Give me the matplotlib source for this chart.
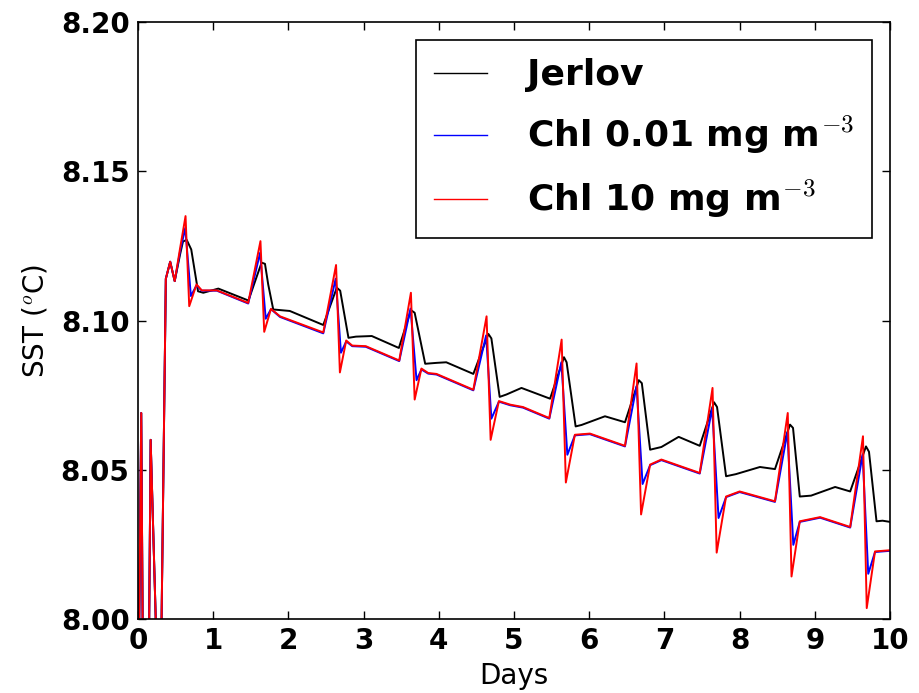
import matplotlib
matplotlib.use("Agg")
import matplotlib.pyplot as plt

plt.rcParams['mathtext.fontset'] = 'cm'
plt.rcParams['font.family'] = ['DejaVu Sans']

# Jerlov (black)
t_jerlov = [0.00, 0.045, 0.09, 0.125, 0.17, 0.24, 0.28, 0.315, 0.372, 0.43, 0.49, 0.56, 0.60, 0.65, 0.71, 0.80, 0.87, 1.07, 1.47,
            1.645, 1.69, 1.733, 1.80, 2.02, 2.465,
            2.645, 2.69, 2.80, 2.90, 3.11, 3.47,
            3.63, 3.68, 3.82, 3.97, 4.10, 4.46,
            4.66, 4.70, 4.81, 4.90, 5.10, 5.48,
            5.665, 5.70, 5.82, 5.90, 6.21, 6.476,
            6.66, 6.70, 6.81, 6.96, 7.19, 7.47,
            7.66, 7.70, 7.82, 7.95, 8.27, 8.47,
            8.67, 8.71, 8.80, 8.95, 9.27, 9.47,
            9.68, 9.72, 9.82, 9.90, 10.0]
v_jerlov = [7.95, 8.069, 7.90, 7.92, 8.060, 7.998, 7.95, 7.999, 8.114, 8.1197, 8.1132, 8.122, 8.1265, 8.127, 8.1238, 8.1098, 8.1093, 8.1107, 8.1067,
            8.1194, 8.1190, 8.1121, 8.1037, 8.1032, 8.0985,
            8.1110, 8.1100, 8.0942, 8.0946, 8.0948, 8.0908,
            8.1035, 8.1026, 8.0855, 8.0858, 8.0860, 8.0821,
            8.0955, 8.0940, 8.0744, 8.0752, 8.0774, 8.0738,
            8.0877, 8.0860, 8.0645, 8.0650, 8.0679, 8.0659,
            8.0800, 8.0790, 8.0567, 8.0576, 8.0610, 8.0580,
            8.0726, 8.0710, 8.0478, 8.0485, 8.0509, 8.0502,
            8.0651, 8.0640, 8.0410, 8.0413, 8.0442, 8.0427,
            8.0578, 8.0560, 8.0327, 8.0329, 8.0325]

# Chl 0.01 mg m-3 (blue)
t_chl001 = [0.00, 0.045, 0.09, 0.125, 0.17, 0.24, 0.28, 0.315, 0.372, 0.43, 0.49, 0.56, 0.63, 0.705, 0.78, 0.85, 1.05, 1.467,
            1.625, 1.70, 1.77, 1.89, 2.465,
            2.63, 2.70, 2.77, 2.85, 3.03, 3.475,
            3.625, 3.705, 3.77, 3.86, 3.97, 4.46,
            4.63, 4.70, 4.80, 4.95, 5.12, 5.47,
            5.63, 5.71, 5.81, 6.01, 6.476,
            6.63, 6.71, 6.81, 6.96, 7.47,
            7.635, 7.72, 7.82, 8.00, 8.47,
            8.635, 8.714, 8.80, 9.07, 9.47,
            9.635, 9.71, 9.80, 10.0]
v_chl001 = [7.95, 8.069, 7.90, 7.92, 8.060, 7.998, 7.95, 7.999, 8.114, 8.1197, 8.1132, 8.123, 8.131, 8.1082, 8.1118, 8.1100, 8.1100, 8.1057,
            8.1227, 8.1006, 8.1038, 8.1012, 8.0957,
            8.1140, 8.0892, 8.0930, 8.0914, 8.0912, 8.0864,
            8.1040, 8.0800, 8.0836, 8.0822, 8.0819, 8.0766,
            8.0950, 8.0671, 8.0728, 8.0716, 8.0708, 8.0671,
            8.0860, 8.0550, 8.0615, 8.0619, 8.0578,
            8.0780, 8.0452, 8.0515, 8.0532, 8.0487,
            8.0705, 8.0338, 8.0408, 8.0425, 8.0392,
            8.0625, 8.0248, 8.0325, 8.0339, 8.0306,
            8.0550, 8.0151, 8.0224, 8.0228]

# Chl 10 mg m-3 (red)
t_chl10 = [0.00, 0.045, 0.09, 0.125, 0.17, 0.24, 0.28, 0.315, 0.372, 0.43, 0.49, 0.56, 0.634, 0.683, 0.78, 0.85, 1.05, 1.467,
           1.63, 1.68, 1.77, 1.89, 2.465,
           2.635, 2.686, 2.77, 2.85, 3.03, 3.475,
           3.63, 3.68, 3.77, 3.86, 3.97, 4.46,
           4.636, 4.69, 4.80, 4.95, 5.12, 5.47,
           5.634, 5.69, 5.81, 6.01, 6.476,
           6.63, 6.69, 6.81, 6.96, 7.47,
           7.64, 7.695, 7.82, 8.00, 8.47,
           8.64, 8.69, 8.80, 9.07, 9.47,
           9.64, 9.69, 9.80, 10.0]
v_chl10 = [7.95, 8.069, 7.90, 7.92, 8.060, 7.998, 7.95, 7.999, 8.114, 8.1197, 8.1132, 8.124, 8.135, 8.1048, 8.1121, 8.1101, 8.1101, 8.1059,
           8.1266, 8.0962, 8.1039, 8.1014, 8.0960,
           8.1186, 8.0826, 8.0933, 8.0916, 8.0914, 8.0866,
           8.1093, 8.0735, 8.0839, 8.0824, 8.0821, 8.0768,
           8.1014, 8.0600, 8.0730, 8.0718, 8.0710, 8.0673,
           8.0936, 8.0457, 8.0617, 8.0621, 8.0580,
           8.0856, 8.0350, 8.0517, 8.0534, 8.0489,
           8.0774, 8.0222, 8.0410, 8.0427, 8.0394,
           8.0690, 8.0142, 8.0327, 8.0341, 8.0308,
           8.0612, 8.0036, 8.0226, 8.0230]

labels = ['Jerlov', 'Chl 0.01 mg m$^{-3}$', 'Chl 10 mg m$^{-3}$']
x_ticks = list(range(0, 11))
y_ticks = [8.00, 8.05, 8.10, 8.15, 8.20]

fig = plt.figure(figsize=(9.19, 6.93), dpi=100)
ax = fig.add_axes([0.150, 0.107, 0.8185, 0.861])

ax.plot(t_jerlov, v_jerlov, color='k', lw=1.4, label=labels[0])
ax.plot(t_chl001, v_chl001, color='b', lw=1.4, label=labels[1])
ax.plot(t_chl10, v_chl10, color='r', lw=1.4, label=labels[2])

ax.set_xlim(0, 10)
ax.set_ylim(8.00, 8.20)
ax.set_xticks(x_ticks)
ax.set_yticks(y_ticks)
ax.set_yticklabels(['%.2f' % y for y in y_ticks])
ax.tick_params(direction='in', top=True, right=True, length=6, width=1, labelsize=20, pad=6)
for lab in ax.get_xticklabels() + ax.get_yticklabels():
    lab.set_fontweight('bold')
for s in ax.spines.values():
    s.set_linewidth(1.2)

ax.set_xlabel('Days', fontsize=20, labelpad=5)
ax.set_ylabel('SST ($^o$C)', fontsize=20, labelpad=8)

leg = ax.legend(loc='upper right', prop={'weight': 'bold', 'size': 26}, fancybox=False,
                edgecolor='k', framealpha=1, handlelength=1.45, handletextpad=1.1,
                labelspacing=0.6, borderaxespad=0.5, borderpad=0.5)
leg.get_frame().set_linewidth(1.2)
for l in leg.get_lines():
    l.set_linewidth(1.0)

fig.savefig('out.png', dpi=100)
